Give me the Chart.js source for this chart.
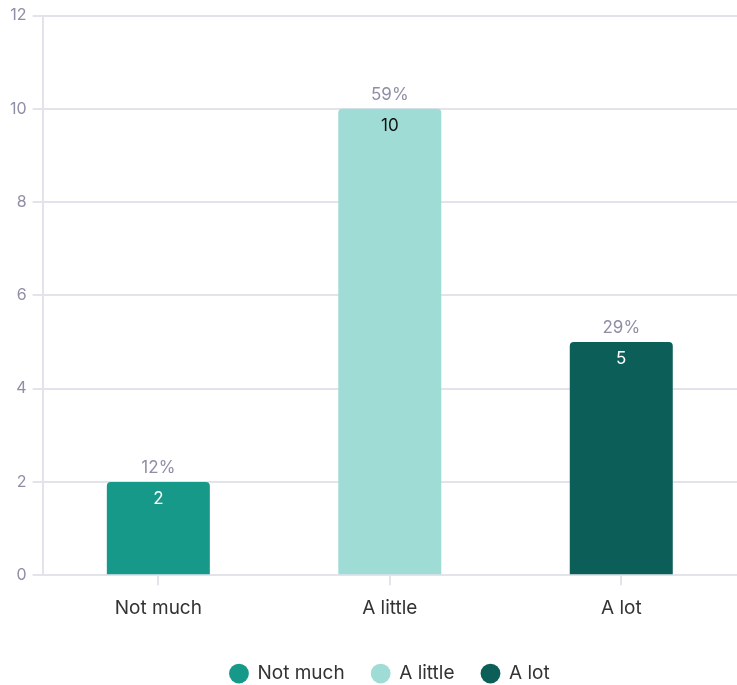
<!DOCTYPE html>
<html>
<head>
<meta charset="utf-8">
<script src="https://cdn.jsdelivr.net/npm/chart.js@4/dist/chart.umd.min.js"></script>
<style>
  html, body { margin: 0; padding: 0; background: #fff; }
  #wrap { width: 737px; height: 685px; }
</style>
</head>
<body>
<div id="wrap"><canvas id="barChart"></canvas></div>
<script>
var categories = ['Not much', 'A little', 'A lot'];
var counts = [2, 10, 5];
var percents = ['12%', '59%', '29%'];
var colors = ['#17998a', '#9fdcd6', '#0b5f58'];
var valueColors = ['#ffffff', '#111111', '#ffffff'];
var yTicks = [0, 2, 4, 6, 8, 10, 12];

// one dataset per answer so the legend shows each one
var datasets = categories.map(function (name, i) {
  var d = categories.map(function (c, j) { return j === i ? counts[i] : null; });
  return {
    label: name,
    data: d,
    backgroundColor: colors[i],
    borderRadius: { topLeft: 4, topRight: 4 },
    borderSkipped: 'bottom',
    barPercentage: 0.445,
    categoryPercentage: 1
  };
});

var barLabels = {
  id: 'barLabels',
  afterDatasetsDraw: function (chart) {
    var ctx = chart.ctx;
    ctx.save();
    ctx.textAlign = 'center';
    chart.data.datasets.forEach(function (ds, i) {
      var meta = chart.getDatasetMeta(i);
      var bar = meta.data[i];
      if (!bar) return;
      ctx.font = '17px Inter';
      ctx.fillStyle = '#8e8ea6';
      ctx.textBaseline = 'alphabetic';
      ctx.fillText(percents[i], bar.x, bar.y - 9);
      ctx.fillStyle = valueColors[i];
      ctx.textBaseline = 'middle';
      ctx.fillText(String(counts[i]), bar.x, bar.y + 17);
    });
    ctx.restore();
  }
};

// fixed legend block height so the legend sits near the bottom edge
var legendHeight = {
  id: 'legendHeight',
  beforeLayout: function (chart) {
    var lg = chart.legend;
    if (lg && !lg._fixed) {
      var orig = lg.fit;
      lg.fit = function () { orig.call(this); this.height = 53; };
      lg._fixed = true;
    }
  }
};

new Chart(document.getElementById('barChart'), {
  type: 'bar',
  data: { labels: categories, datasets: datasets },
  plugins: [barLabels, legendHeight],
  options: {
    responsive: true,
    maintainAspectRatio: false,
    animation: false,
    layout: { padding: { top: 6, right: 0, left: 4, bottom: 0 } },
    datasets: { bar: { skipNull: true } },
    plugins: {
      tooltip: { enabled: false },
      legend: {
        position: 'bottom',
        fullSize: false,
        title: { display: true, text: '', padding: 0, font: { size: 4.2 } },
        labels: {
          usePointStyle: true,
          pointStyle: 'circle',
          boxWidth: 18,
          boxHeight: 14,
          padding: 27,
          color: '#333',
          font: { family: 'Inter', size: 19 }
        }
      }
    },
    scales: {
      x: {
        grid: { display: true, offset: false, drawOnChartArea: false, color: '#e3e3ec', lineWidth: 2, tickLength: 10 },
        border: { color: '#e3e3ec', width: 2 },
        ticks: { color: '#333', font: { family: 'Inter', size: 19 }, padding: 12 }
      },
      y: {
        min: 0,
        max: 12,
        afterBuildTicks: function (axis) {
          axis.ticks = yTicks.map(function (v) { return { value: v }; });
        },
        grid: { color: '#e3e3ec', lineWidth: 2, tickLength: 10 },
        border: { color: '#e3e3ec', width: 2 },
        ticks: { color: '#8e8ea6', font: { family: 'Inter', size: 16 }, padding: 6 }
      }
    }
  }
});
</script>
</body>
</html>
